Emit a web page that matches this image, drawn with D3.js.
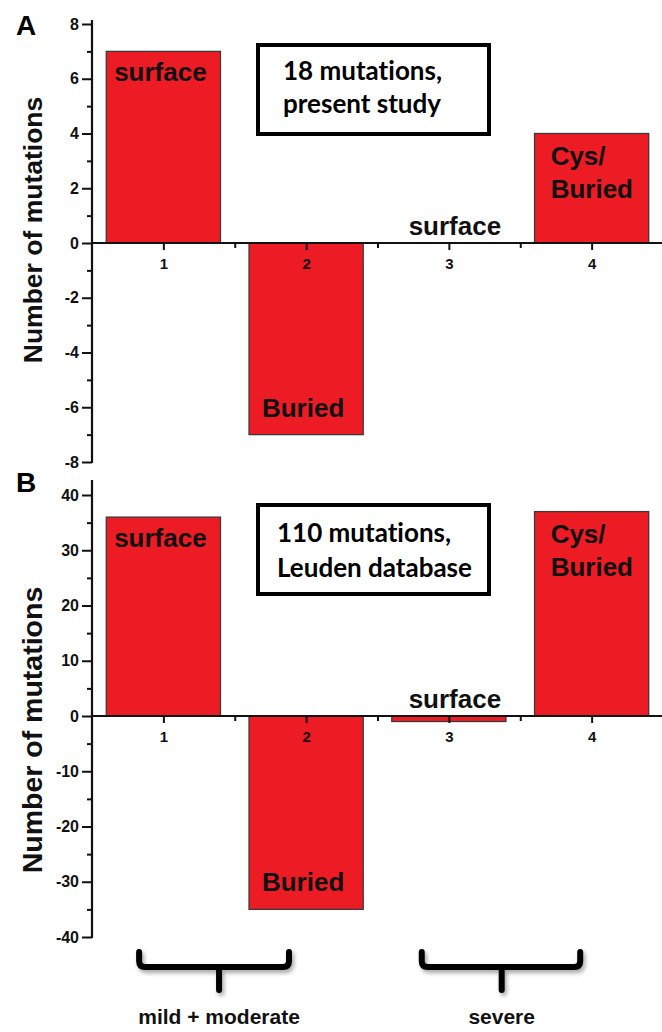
<!DOCTYPE html>
<html>
<head>
<meta charset="utf-8">
<script src="https://cdn.jsdelivr.net/npm/d3@7"></script>
<style>
  body { margin: 0; background: #fff; }
  svg { display: block; }
</style>
</head>
<body>
<div id="chart"></div>
<script>
// data
var categories = [1, 2, 3, 4];
var valuesA = [7, -7, 0, 4];
var valuesB = [36, -35, -1, 37];
var barLabelsA = [["surface"], ["Buried"], ["surface"], ["Cys/", "Buried"]];
var barLabelsB = [["surface"], ["Buried"], ["surface"], ["Cys/", "Buried"]];
var boxTextA = ["18 mutations,", "present study"];
var boxTextB = ["110 mutations,", "Leuden database"];
var yTicksA = [-8, -6, -4, -2, 0, 2, 4, 6, 8];
var yTicksB = [-40, -30, -20, -10, 0, 10, 20, 30, 40];
var groupLabels = ["mild + moderate", "severe"];
var groupStart = [0.83, 2.81];
var groupEnd = [1.88, 3.92];
var groupMid = [1.39, 3.37];

var svgWidth = 662, svgHeight = 1032;
var arial = "'Liberation Sans', Arial, sans-serif";
var svg = d3.select("#chart").append("svg")
  .attr("width", svgWidth)
  .attr("height", svgHeight);

var defs = svg.append("defs");
defs.append("filter").attr("id", "shadow")
  .attr("x", "-20%").attr("y", "-50%").attr("width", "140%").attr("height", "200%")
  .append("feDropShadow")
  .attr("dx", 2).attr("dy", 3).attr("stdDeviation", 2)
  .attr("flood-color", "#000").attr("flood-opacity", 0.35);

// shared x scale
var x = d3.scaleLinear().domain([0.5, 4.5]).range([92, 663]);
var barW = x(1.4) - x(0.6);
var plainNum = function(d) { return String(d); };

var panels = [
  { letter: "A", letterY: 35, values: valuesA, labels: barLabelsA, box: boxTextA,
    ticks: yTicksA, minor: d3.range(-7, 8, 2), domain: [-8, 8], range: [462, 24], top: 8.15,
    boxY: 45, boxTextX: 283, boxBase: [80, 113], titleSize: 26.5, titleY: 230 },
  { letter: "B", letterY: 492, values: valuesB, labels: barLabelsB, box: boxTextB,
    ticks: yTicksB, minor: d3.range(-35, 40, 10), domain: [-40, 40], range: [937, 495], top: 42.7,
    boxY: 505, boxTextX: 277, boxBase: [542, 577], titleSize: 28.5, titleY: 730 }
];

panels.forEach(function(p) {
  var y = d3.scaleLinear().domain(p.domain).range(p.range);
  var g = svg.append("g");

  // bars
  g.selectAll("rect.bar")
    .data(p.values)
    .enter()
    .append("rect")
    .attr("class", "bar")
    .attr("x", function(d, i) { return x(categories[i]) - barW / 2; })
    .attr("y", function(d) { return y(Math.max(0, d)); })
    .attr("width", barW)
    .attr("height", function(d) { return Math.abs(y(d) - y(0)); })
    .attr("fill", "#ed1c24")
    .attr("stroke", function(d) { return d === 0 ? "none" : "#3a3a3a"; })
    .attr("stroke-width", 1.3);

  // y axis
  var yAxis = g.append("g")
    .attr("transform", "translate(92,0)")
    .call(d3.axisLeft(y).tickValues(p.ticks).tickSize(10).tickPadding(3).tickFormat(plainNum));
  yAxis.attr("font-family", arial).attr("font-size", 16).attr("font-weight", "bold");
  yAxis.select(".domain").remove();
  yAxis.selectAll(".tick line").attr("stroke", "#111").attr("stroke-width", 2);
  yAxis.selectAll(".tick text").attr("fill", "#111");

  var yMinor = g.append("g")
    .attr("transform", "translate(92,0)")
    .call(d3.axisLeft(y).tickValues(p.minor).tickSize(5).tickFormat(""));
  yMinor.select(".domain").remove();
  yMinor.selectAll(".tick line").attr("stroke", "#111").attr("stroke-width", 2);

  g.append("line")
    .attr("x1", 92).attr("x2", 92)
    .attr("y1", y(p.domain[0]) + 1).attr("y2", y(p.top))
    .attr("stroke", "#111").attr("stroke-width", 2.2);

  // x axis at zero
  var xAxis = g.append("g")
    .attr("transform", "translate(0," + y(0) + ")")
    .call(d3.axisBottom(x).tickValues(categories).tickSize(7).tickPadding(8).tickFormat(plainNum));
  xAxis.attr("font-family", arial).attr("font-size", 15).attr("font-weight", "bold");
  xAxis.select(".domain").remove();
  xAxis.selectAll(".tick line").attr("stroke", "#111").attr("stroke-width", 2);
  xAxis.selectAll(".tick text").attr("fill", "#111");

  var xMinor = g.append("g")
    .attr("transform", "translate(0," + y(0) + ")")
    .call(d3.axisBottom(x).tickValues([1.5, 2.5, 3.5]).tickSize(5).tickFormat(""));
  xMinor.select(".domain").remove();
  xMinor.selectAll(".tick line").attr("stroke", "#111").attr("stroke-width", 2);

  g.append("line")
    .attr("x1", 92).attr("x2", 662)
    .attr("y1", y(0)).attr("y2", y(0))
    .attr("stroke", "#111").attr("stroke-width", 2.2);

  // labels on the bars
  p.values.forEach(function(v, i) {
    var lines = p.labels[i];
    var cx = x(categories[i]);
    var t = g.append("text")
      .attr("font-family", arial)
      .attr("font-weight", "bold")
      .attr("font-size", 26)
      .attr("fill", "#111");
    if (lines.length > 1) {
      lines.forEach(function(s, k) {
        t.append("tspan").attr("x", cx - 41).attr("y", y(v) + 31 + k * 33).text(s);
      });
    } else if (v < -2) {
      t.attr("text-anchor", "middle").attr("x", cx - 3).attr("y", y(v) - 18).text(lines[0]);
    } else if (v <= 0) {
      t.attr("text-anchor", "middle").attr("x", cx + 6).attr("y", y(0) - 8).text(lines[0]);
    } else {
      t.attr("text-anchor", "middle").attr("x", cx - 3).attr("y", y(v) + 30).text(lines[0]);
    }
  });

  // text box
  g.append("rect")
    .attr("x", 258).attr("y", p.boxY)
    .attr("width", 231).attr("height", 89)
    .attr("fill", "#fff").attr("stroke", "#000").attr("stroke-width", 4);
  p.box.forEach(function(s, k) {
    g.append("text")
      .attr("x", p.boxTextX).attr("y", p.boxBase[k])
      .attr("font-family", "Lato, 'Open Sans', sans-serif")
      .attr("font-weight", "bold")
      .attr("font-size", 26)
      .style("font-variant-ligatures", "none")
      .attr("fill", "#000")
      .text(s);
  });

  // panel letter
  g.append("text")
    .attr("x", 16).attr("y", p.letterY)
    .attr("font-family", arial)
    .attr("font-weight", "bold").attr("font-size", 28)
    .text(p.letter);

  // y title
  g.append("text")
    .attr("transform", "translate(42," + p.titleY + ") rotate(-90)")
    .attr("text-anchor", "middle")
    .attr("font-family", arial)
    .attr("font-weight", "bold").attr("font-size", p.titleSize)
    .attr("fill", "#111")
    .text("Number of mutations");
});

// severity brackets below panel B
groupLabels.forEach(function(lab, i) {
  var x0 = x(groupStart[i]), x1 = x(groupEnd[i]), xm = x(groupMid[i]);
  var top = 952, mid = 967, bot = 990, r = 6;
  var path = d3.path();
  path.moveTo(x0, top);
  path.lineTo(x0, mid - r);
  path.quadraticCurveTo(x0, mid, x0 + r, mid);
  path.lineTo(x1 - r, mid);
  path.quadraticCurveTo(x1, mid, x1, mid - r);
  path.lineTo(x1, top);
  path.moveTo(xm, mid);
  path.lineTo(xm, bot);
  svg.append("path")
    .attr("d", path.toString())
    .attr("fill", "none")
    .attr("stroke", "#000")
    .attr("stroke-width", 6)
    .attr("stroke-linecap", "round")
    .attr("stroke-linejoin", "round")
    .attr("filter", "url(#shadow)");
  svg.append("text")
    .attr("x", xm).attr("y", 1024)
    .attr("text-anchor", "middle")
    .attr("font-family", arial)
    .attr("font-weight", "bold").attr("font-size", 21)
    .attr("fill", "#111")
    .text(lab);
});
</script>
</body>
</html>
